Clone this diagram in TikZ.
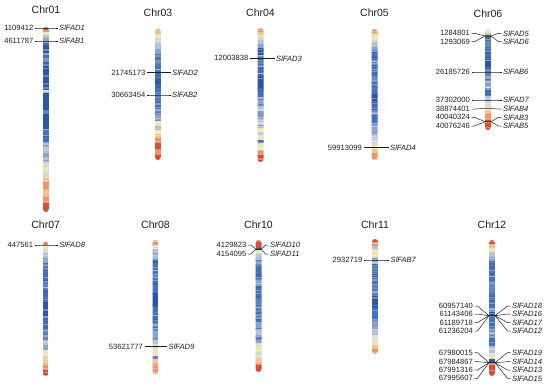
\documentclass[tikz,border=0pt]{standalone}
\usepackage{fontspec}
\setmainfont{Liberation Sans}
\definecolor{chrink}{HTML}{1E1E1E}
\definecolor{h0}{HTML}{2F55A4}
\definecolor{h1}{HTML}{4670BA}
\definecolor{h2}{HTML}{6488C4}
\definecolor{h3}{HTML}{8CA5CD}
\definecolor{h4}{HTML}{B3C3D5}
\definecolor{h5}{HTML}{D3D9CF}
\definecolor{h6}{HTML}{EEE5B5}
\definecolor{h7}{HTML}{F4C08F}
\definecolor{h8}{HTML}{EE9566}
\definecolor{h9}{HTML}{DA4C38}
% title, x, title y, top, bottom, stripes (end fraction / heat level)
\newcommand{\chrom}[6]{%
  \node[chrtitle] (#1) at (#2,#3) {#1};
  \begin{scope}
    \clip[rounded corners=3pt] (#2-3,#4) rectangle (#2+3,#5);
    \foreach \f/\c [remember=\f as \fp (initially 0)] in {#6}
      \fill[h\c] (#2-3.2,{#4+\fp*(#5-#4)-0.2}) rectangle (#2+3.2,{#4+\f*(#5-#4)+0.2});
    % fine banding; dark bands only in the blue middle
    \foreach \k in {1,...,26} {
      \pgfmathsetmacro{\ry}{#4+rnd*(#5-#4)}
      \fill[white, opacity=0.3] (#2-3.2,\ry) rectangle (#2+3.2,\ry+0.9);
      \pgfmathsetmacro{\ry}{#4+(0.15+0.6*rnd)*(#5-#4)}
      \fill[h0, opacity=0.35] (#2-3.2,\ry) rectangle (#2+3.2,\ry+0.9);
    }
  \end{scope}
}
% x, y on bar, label y, position, gene, left gap, right gap
\newcommand{\gene}[7]{%
  \node[num] (p#5) at (#1-#6,#3) {#4};
  \node[gname] (#5) at (#1+#7,#3) {#5};
  \draw[link] ([xshift=1.5pt]p#5.east) -- ([xshift=4.5pt]p#5.east)
    -- (#1-3,#2) -- (#1+3,#2) -- ([xshift=-4.5pt]#5.west)
    -- ([xshift=-1.5pt]#5.west);
}

\begin{document}
\begin{tikzpicture}[
  x=1pt,
  y=-1pt,
  every node/.style={chrink},
  chrtitle/.style={font=\fontsize{10.5}{12}\selectfont, inner sep=0pt},
  num/.style={font=\fontsize{7.6}{9}\selectfont, anchor=east, inner sep=0pt},
  gname/.style={font=\fontsize{7.6}{9}\selectfont\itshape, anchor=west, inner sep=0pt},
  link/.style={chrink, line width=0.5pt}
]
  \useasboundingbox (0,0) rectangle (550,386);
  \pgfmathsetseed{11}

  % ================= top row =============================================
  \chrom{Chr01}{46}{9.3}{27}{212}{.015/9,.03/8,.045/6,.06/4,.08/3,.1/1,.14/0,
    .15/3,.2/1,.21/2,.26/0,.27/3,.34/0,.35/5,.36/2,.45/0,.47/2,.55/0,.57/2,
    .62/1,.65/3,.68/4,.7/3,.73/4,.76/5,.79/6,.81/5,.84/7,.88/8,.92/7,.95/8,1/9}
  \chrom{Chr03}{158}{13}{29}{160}{.02/8,.045/7,.07/6,.11/5,.15/4,.19/3,.25/1,
    .3/2,.38/1,.42/0,.5/1,.55/2,.62/1,.7/3,.74/6,.77/4,.8/6,.83/7,.87/8,.92/9,
    .96/8,1/9}
  \chrom{Chr04}{260.5}{13}{28}{162}{.03/8,.05/7,.07/6,.09/5,.12/4,.15/3,.2/0,
    .24/1,.3/2,.36/1,.45/0,.52/1,.59/3,.63/4,.67/3,.7/4,.74/5,.78/6,.8/4,.84/6,
    .86/1,.87/5,.91/6,.95/8,1/9}
  \chrom{Chr05}{374.5}{13}{29}{160}{.03/8,.05/7,.08/6,.1/5,.14/4,.18/3,.25/1,
    .28/3,.35/1,.4/2,.5/1,.55/0,.62/1,.66/3,.72/1,.8/3,.85/4,.89/5,.92/6,.95/7,
    1/8}
  \chrom{Chr06}{488}{14}{29}{130}{.04/6,.06/4,.12/1,.2/2,.3/1,.4/0,.5/2,.55/4,
    .6/3,.67/1,.72/4,.77/5,.8/6,.84/7,.9/8,.95/9,1/9}

  \foreach \yb/\yl/\loc/\gid in {28/28/1109412/SlFAD1, 41/41/4611787/SlFAB1}
    \gene{46}{\yb}{\yl}{\loc}{\gid}{12.5}{13};
  \foreach \yb/\yl/\loc/\gid in {72.7/72.7/21745173/SlFAD2,
      95/95/30663454/SlFAB2}
    \gene{158}{\yb}{\yl}{\loc}{\gid}{12.5}{14};
  \gene{260.5}{58.3}{58.3}{12003838}{SlFAD3}{12}{15.5};
  \gene{374.5}{147.7}{147.7}{59913099}{SlFAD4}{12.5}{15.5};

  % Chr06: close pairs fan out to their own label rows
  \foreach \yb/\yl/\loc/\gid in {36/33.3/1284801/SlFAD5, 36/41.7/1293069/SlFAD6,
      72/72/26185726/SlFAB6, 100/100/37302000/SlFAD7, 108.5/109/38874401/SlFAB4,
      121.7/117.3/40040324/SlFAB3, 121.7/126/40076246/SlFAB5}
    \gene{488}{\yb}{\yl}{\loc}{\gid}{18}{15};

  % ================= bottom row ==========================================
  \chrom{Chr07}{45.7}{225}{242}{376}{.025/9,.05/6,.08/5,.11/4,.16/3,.21/2,
    .3/1,.35/2,.45/1,.55/0,.65/1,.73/2,.77/4,.81/3,.85/6,.88/5,.92/7,.96/8,1/9}
  \chrom{Chr08}{155.5}{225}{240}{374}{.04/8,.07/5,.1/4,.15/3,.25/1,.3/2,.4/1,
    .5/0,.6/1,.68/2,.75/3,.78/4,.81/5,.87/6,.89/2,.93/7,1/8}
  \chrom{Chr10}{258.5}{225}{240}{372}{.06/9,.075/0,.1/6,.14/4,.2/3,.3/1,.35/3,
    .45/1,.55/2,.62/1,.68/3,.72/4,.78/3,.81/5,.85/6,.89/5,.92/7,.95/8,1/9}
  \chrom{Chr11}{375}{225}{239}{354}{.03/9,.06/8,.09/4,.16/6,.22/4,.3/2,.4/1,
    .5/2,.6/0,.7/1,.79/3,.84/4,.88/5,.92/6,.96/7,1/8}
  \chrom{Chr12}{492}{225}{240}{376}{.03/9,.06/7,.09/6,.13/4,.17/3,.3/1,.4/2,
    .5/1,.53/3,.57/0,.65/1,.72/3,.78/1,.83/4,.88/6,.895/0,.92/8,1/9}

  \gene{45.7}{245}{245}{447561}{SlFAD8}{12.5}{13.5};
  \gene{155.5}{346.7}{346.7}{53621777}{SlFAD9}{12.5}{13};
  \foreach \yb/\yl/\loc/\gid in {249/245/4129823/SlFAD10,
      249.5/254/4154095/SlFAD11}
    \gene{258.5}{\yb}{\yl}{\loc}{\gid}{12}{11.5};
  \gene{375}{260}{260}{2932719}{SlFAB7}{12.5}{15.5};

  % Chr12: two clusters of four, each fanned over four rows
  \foreach \yb/\yl/\loc/\gid in {315.7/306/60957140/SlFAD18,
      315.7/314/61143406/SlFAD16, 315.7/322.5/61189718/SlFAD17,
      315.7/331/61236204/SlFAD12, 362.7/352.7/67980015/SlFAD19,
      362.7/361.7/67984867/SlFAD14, 362.7/370/67991316/SlFAD13,
      362.7/378.3/67995607/SlFAD15}
    \gene{492}{\yb}{\yl}{\loc}{\gid}{19}{20};
\end{tikzpicture}
\end{document}
